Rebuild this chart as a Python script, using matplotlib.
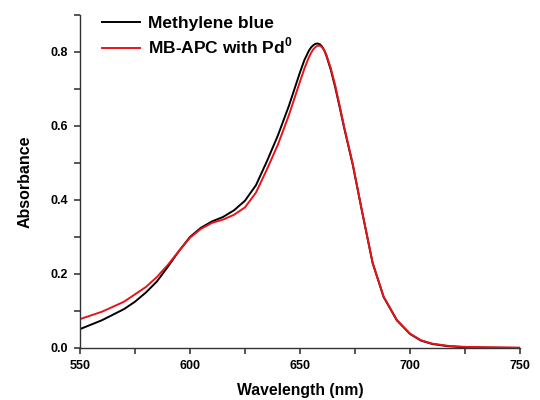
import numpy as np
import matplotlib.pyplot as plt
from matplotlib.ticker import MultipleLocator

plt.style.use('default')
plt.rcParams['font.family'] = ['Liberation Sans', 'DejaVu Sans']
plt.rcParams['mathtext.fontset'] = 'custom'
plt.rcParams['mathtext.bf'] = 'Liberation Sans:bold'
plt.rcParams['mathtext.rm'] = 'Liberation Sans'

# wavelength (nm) and absorbance
wl_mb = [550, 560, 570, 575, 580, 585, 590, 595, 600, 605, 610, 615, 620, 625,
         630, 635, 640, 645, 650, 652, 654, 655, 656, 657, 658, 659, 660, 661,
         662, 664, 666, 668, 670, 674, 678, 683, 688, 694, 700, 705, 710, 717,
         725, 735, 750]
abs_mb = [0.051, 0.075, 0.105, 0.125, 0.150, 0.180, 0.220, 0.262, 0.300, 0.325,
          0.342, 0.354, 0.372, 0.398, 0.440, 0.505, 0.575, 0.655, 0.745, 0.778,
          0.803, 0.812, 0.818, 0.822, 0.823, 0.821, 0.815, 0.805, 0.790, 0.752,
          0.705, 0.652, 0.597, 0.495, 0.375, 0.230, 0.138, 0.075, 0.038, 0.020,
          0.011, 0.005, 0.002, 0.001, 0.000]

wl_pd = [550, 560, 570, 575, 580, 585, 590, 595, 600, 605, 610, 615, 620, 625,
         630, 635, 640, 645, 650, 652, 654, 655, 656, 657, 658, 659, 660, 661,
         662, 664, 666, 668, 670, 674, 678, 683, 688, 694, 700, 705, 710, 717,
         725, 735, 750]
abs_pd = [0.078, 0.098, 0.125, 0.145, 0.165, 0.192, 0.225, 0.262, 0.298, 0.322,
          0.338, 0.347, 0.360, 0.380, 0.420, 0.483, 0.550, 0.630, 0.720, 0.755,
          0.785, 0.797, 0.807, 0.813, 0.817, 0.817, 0.813, 0.805, 0.792, 0.756,
          0.710, 0.656, 0.600, 0.497, 0.376, 0.231, 0.139, 0.076, 0.039, 0.021,
          0.012, 0.006, 0.003, 0.002, 0.001]

fig = plt.figure(figsize=(5.4, 4.0), dpi=100)
ax = fig.add_axes([0.148, 0.13, 0.815, 0.8325])

ax.plot(wl_mb, abs_mb, color='black', lw=1.4, label='Methylene blue')
ax.plot(wl_pd, abs_pd, color='#e8141a', lw=1.4, label='MB-APC with Pd$^{\\mathbf{0}}$')

ax.set_xlim(550, 750)
ax.set_ylim(0, 0.9)
ax.xaxis.set_major_locator(MultipleLocator(50))
ax.xaxis.set_minor_locator(MultipleLocator(25))
ax.yaxis.set_minor_locator(MultipleLocator(0.1))
ax.set_yticks([0.0, 0.2, 0.4, 0.6, 0.8])
ax.set_yticklabels(['0.0', '0.2', '0.4', '0.6', '0.8'])

for s in ('top', 'right'):
    ax.spines[s].set_visible(False)
for s in ('left', 'bottom'):
    ax.spines[s].set_color('#333333')
    ax.spines[s].set_linewidth(1.0)

ax.tick_params(which='both', direction='out', length=4.5, width=1.2, color='#3a3a3a',
               bottom=True, left=True)
ax.tick_params(which='major', labelsize=9, pad=4)
for lbl in ax.get_xticklabels() + ax.get_yticklabels():
    lbl.set_fontweight('bold')

ax.set_xlabel('Wavelength (nm)', fontsize=11.3, fontweight='bold', labelpad=8)
ax.set_ylabel('Absorbance', fontsize=11.5, fontweight='bold', labelpad=13)

leg = ax.legend(loc='upper left', bbox_to_anchor=(0.015, 1.045), frameon=False,
                handlelength=2.2, handletextpad=0.45, labelspacing=0.3,
                prop={'size': 12.5, 'weight': 'bold'})

fig.savefig('out.png', dpi=100, facecolor='white')
